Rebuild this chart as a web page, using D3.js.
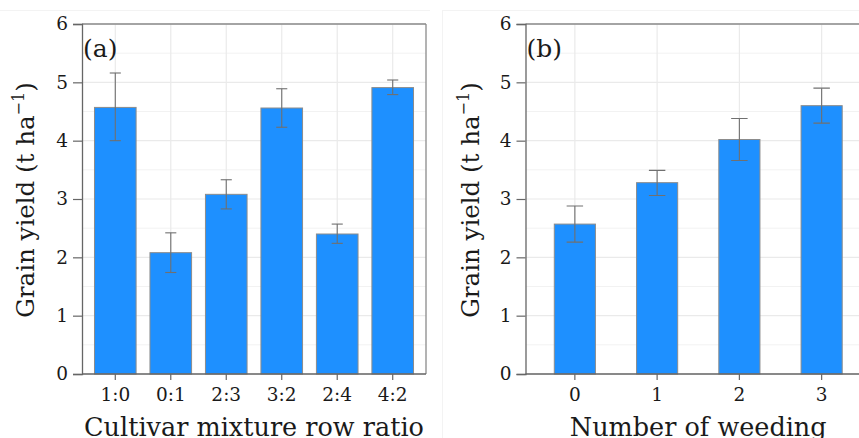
<!DOCTYPE html>
<html><head><meta charset="utf-8">
<script src="https://cdn.jsdelivr.net/npm/d3@7"></script>
<style>
html,body{margin:0;padding:0;background:#fff;}
svg{display:block;}
text{font-family:"DejaVu Serif",serif;fill:#1a1a1a;}
</style></head>
<body>
<svg id="chart" width="859" height="438"></svg>
<script>
// ---- data ----
const ratioCategories = ["1:0","0:1","2:3","3:2","2:4","4:2"];
const ratioYield      = [4.57, 2.08, 3.08, 4.56, 2.40, 4.91];
const ratioLower      = [4.00, 1.74, 2.83, 4.23, 2.24, 4.79];
const ratioUpper      = [5.16, 2.42, 3.33, 4.89, 2.57, 5.04];

const weedCategories  = ["0","1","2","3"];
const weedYield       = [2.57, 3.28, 4.02, 4.60];
const weedLower       = [2.26, 3.06, 3.66, 4.30];
const weedUpper       = [2.88, 3.49, 4.38, 4.90];

const yTicks = [0,1,2,3,4,5,6];
const yMinor = [0.5,1.5,2.5,3.5,4.5,5.5];

const svg = d3.select("#chart");

// faint image frames
svg.append("line").attr("x1",0).attr("x2",430).attr("y1",10.5).attr("y2",10.5).attr("stroke","#f3f3f3");
svg.append("line").attr("x1",443).attr("x2",859).attr("y1",10.5).attr("y2",10.5).attr("stroke","#f3f3f3");
svg.append("line").attr("x1",442.5).attr("x2",442.5).attr("y1",10).attr("y2",438).attr("stroke","#f3f3f3");

function panel(cfg){
  const {x0,x1,y0,y1,cats,vals,lo,hi,barFrac,label,xTitle,yTitleX} = cfg;
  const g = svg.append("g");
  const y = d3.scaleLinear().domain([0,6]).range([y1,y0]);
  const pin = 1-barFrac, pout = 0.6 - barFrac/2;
  const x = d3.scaleBand().domain(cats).range([x0,x1]).paddingInner(pin).paddingOuter(pout);
  const step = x.step();
  const cx = c => x(c) + x.bandwidth()/2;

  const clipId = "clip"+label.replace(/\W/g,"");
  svg.append("clipPath").attr("id",clipId).append("rect")
     .attr("x",x0).attr("y",y0-2).attr("width",859-x0).attr("height",y1-y0+4);
  const pg = g.append("g").attr("clip-path",`url(#${clipId})`);

  // grid
  pg.selectAll(".minor").data(yMinor).join("line")
    .attr("x1",x0).attr("x2",x1).attr("y1",d=>y(d)).attr("y2",d=>y(d))
    .attr("stroke","#f2f2f2").attr("stroke-width",1);
  pg.selectAll(".major").data(yTicks).join("line").attr("class","major")
    .attr("x1",x0).attr("x2",x1).attr("y1",d=>y(d)).attr("y2",d=>y(d))
    .attr("stroke","#eaeaea").attr("stroke-width",1.2);
  pg.selectAll(".vgrid").data(cats).join("line").attr("class","vgrid")
    .attr("x1",d=>cx(d)).attr("x2",d=>cx(d)).attr("y1",y0).attr("y2",y1)
    .attr("stroke","#eaeaea").attr("stroke-width",1.2);

  // bars
  pg.selectAll(".bar").data(cats).join("rect").attr("class","bar")
    .attr("x",d=>x(d)).attr("width",x.bandwidth())
    .attr("y",(d,i)=>y(vals[i])).attr("height",(d,i)=>y(0)-y(vals[i]))
    .attr("fill","#1e90ff").attr("stroke","#8c8c8c").attr("stroke-width",1);

  // error bars
  const cap = step*0.2/2;
  const eb = pg.selectAll(".eb").data(cats).join("g").attr("class","eb")
    .attr("stroke","#707070").attr("stroke-width",1.1);
  eb.append("line").attr("x1",d=>cx(d)).attr("x2",d=>cx(d))
    .attr("y1",(d,i)=>y(lo[i])).attr("y2",(d,i)=>y(hi[i]));
  eb.append("line").attr("x1",d=>cx(d)-cap).attr("x2",d=>cx(d)+cap)
    .attr("y1",(d,i)=>y(lo[i])).attr("y2",(d,i)=>y(lo[i]));
  eb.append("line").attr("x1",d=>cx(d)-cap).attr("x2",d=>cx(d)+cap)
    .attr("y1",(d,i)=>y(hi[i])).attr("y2",(d,i)=>y(hi[i]));

  // border top/right
  g.append("line").attr("x1",x0).attr("x2",x1).attr("y1",y0).attr("y2",y0)
    .attr("stroke","#8a8a8a").attr("stroke-width",1.3);
  g.append("line").attr("x1",x1).attr("x2",x1).attr("y1",y0).attr("y2",y1)
    .attr("stroke","#8a8a8a").attr("stroke-width",1.3);

  // axes
  const ya = d3.axisLeft(y).tickValues(yTicks).tickFormat(d3.format("d")).tickSize(9).tickPadding(5);
  const yg = g.append("g").attr("transform",`translate(${x0},0)`).call(ya);
  yg.select(".domain").attr("stroke","#666").attr("stroke-width",1.3);
  yg.selectAll(".tick line").attr("stroke","#666").attr("stroke-width",1.2);
  yg.selectAll(".tick text").style("font-size","18.5px").attr("fill","#1a1a1a");

  const xa = d3.axisBottom(x).tickSize(6).tickPadding(8);
  const xg = g.append("g").attr("transform",`translate(0,${y1})`).call(xa);
  xg.select(".domain").attr("d",`M${x0},0H${x1}`).attr("stroke","#666").attr("stroke-width",1.3);
  xg.selectAll(".tick line").attr("stroke","#666").attr("stroke-width",1.2);
  xg.selectAll(".tick text").style("font-size","18.5px").attr("fill","#1a1a1a");

  // panel label
  g.append("text").attr("x",x0+1).attr("y",y0+32.5).style("font-size","25px").text(label);

  // axis titles
  g.append("text").attr("x",(x0+x1)/2).attr("y",436).attr("text-anchor","middle")
    .style("font-size","25.5px").text(xTitle);
  const yt = g.append("text").attr("transform",`translate(${yTitleX},${(y0+y1)/2 + 1}) rotate(-90)`)
    .attr("text-anchor","middle").style("font-size","24.5px");
  yt.append("tspan").text("Grain yield (t ha");
  yt.append("tspan").attr("dy",-10).style("font-size","16px").text("\u22121");
  yt.append("tspan").attr("dy",10).text(")");
}

panel({x0:82,x1:426,y0:24,y1:374,cats:ratioCategories,vals:ratioYield,lo:ratioLower,hi:ratioUpper,
  barFrac:0.75,label:"(a)",xTitle:"Cultivar mixture row ratio",yTitleX:34});
panel({x0:525.5,x1:871,y0:24,y1:374,cats:weedCategories,vals:weedYield,lo:weedLower,hi:weedUpper,
  barFrac:0.5,label:"(b)",xTitle:"Number of weeding",yTitleX:479});
</script>
</body></html>
